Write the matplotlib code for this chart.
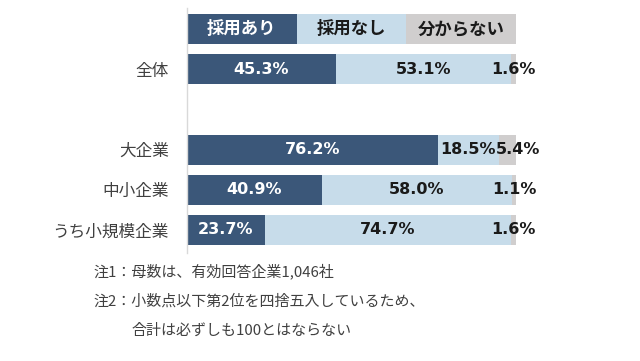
import matplotlib
matplotlib.use("Agg")
import matplotlib.pyplot as plt
import numpy as np

plt.rcParams['font.family'] = ['Noto Sans CJK JP', 'DejaVu Sans']

categories = ["全体", "大企業", "中小企業", "うち小規模企業"]
positions = [0, 2, 3, 4]
series_names = ["採用あり", "採用なし", "分からない"]
adopt = [45.3, 76.2, 40.9, 23.7]
not_adopt = [53.1, 18.5, 58.0, 74.7]
unknown = [1.6, 5.4, 1.1, 1.6]
notes = ["注1：母数は、有効回答企業1,046社",
         "注2：小数点以下第2位を四捨五入しているため、",
         "合計は必ずしも100とはならない"]

colors = ["#3B5779", "#C7DCEA", "#D0CECE"]
text_colors = ["white", "#1a1a1a", "#1a1a1a"]
num_family = ['DejaVu Sans', 'Noto Sans CJK JP']

fig = plt.figure(figsize=(6.4, 3.61), dpi=100)
ax = fig.add_axes([187/640, 1-253/361, (516-187)/640, (253-8)/361])
ax.set_xlim(0, 100)
ax.set_ylim(4.575, -1.525)

h = 0.75
left = np.zeros(len(categories))
labels = []
for vals, c, tc in zip([adopt, not_adopt, unknown], colors, text_colors):
    vals = np.array(vals)
    ax.barh(positions, vals, left=left, height=h, color=c, edgecolor='none')
    row = []
    for p, l, v in zip(positions, left, vals):
        t = ax.text(l + v/2, p, f"{v:.1f}%", ha='center', va='center',
                    color=tc, fontsize=11.5, fontweight='bold', family=num_family)
        row.append(t)
    labels.append(row)
    left = left + vals

# nudge labels to the right if they collide with the previous segment's label
fig.canvas.draw()
r = fig.canvas.get_renderer()
inv = ax.transData.inverted()
for k in range(1, len(labels)):
    for i in range(len(categories)):
        prev = labels[k-1][i].get_window_extent(r)
        cur = labels[k][i].get_window_extent(r)
        if cur.x0 < prev.x1:
            shift = prev.x1 - cur.x0
            x, y = labels[k][i].get_position()
            xd = ax.transData.transform((x, y))
            nx = inv.transform((xd[0] + shift, xd[1]))[0]
            labels[k][i].set_x(nx)

# legend row as header
w = 100/3
for i, (name, c, tc) in enumerate(zip(series_names, colors, text_colors)):
    ax.barh(-1, w, left=i*w, height=h, color=c, edgecolor='none')
    ax.text(i*w + w/2, -1, name, ha='center', va='center', color=tc,
            fontsize=12.5, fontweight='bold')

ax.set_yticks(positions)
ax.set_yticklabels(categories, fontsize=12, color='#404040')
ax.tick_params(axis='y', length=0, pad=13)
ax.set_xticks([])
for s in ['top', 'right', 'bottom']:
    ax.spines[s].set_visible(False)
ax.spines['left'].set_color('#D9D9D9')
ax.spines['left'].set_linewidth(1)

note_x = [93, 93, 132]
note_y = [271, 301, 331]
for t, x, y in zip(notes, note_x, note_y):
    fig.text(x/640, 1 - y/361, t, ha='left', va='center', fontsize=10.8, color='#404040')

fig.savefig("out.png", dpi=100)
